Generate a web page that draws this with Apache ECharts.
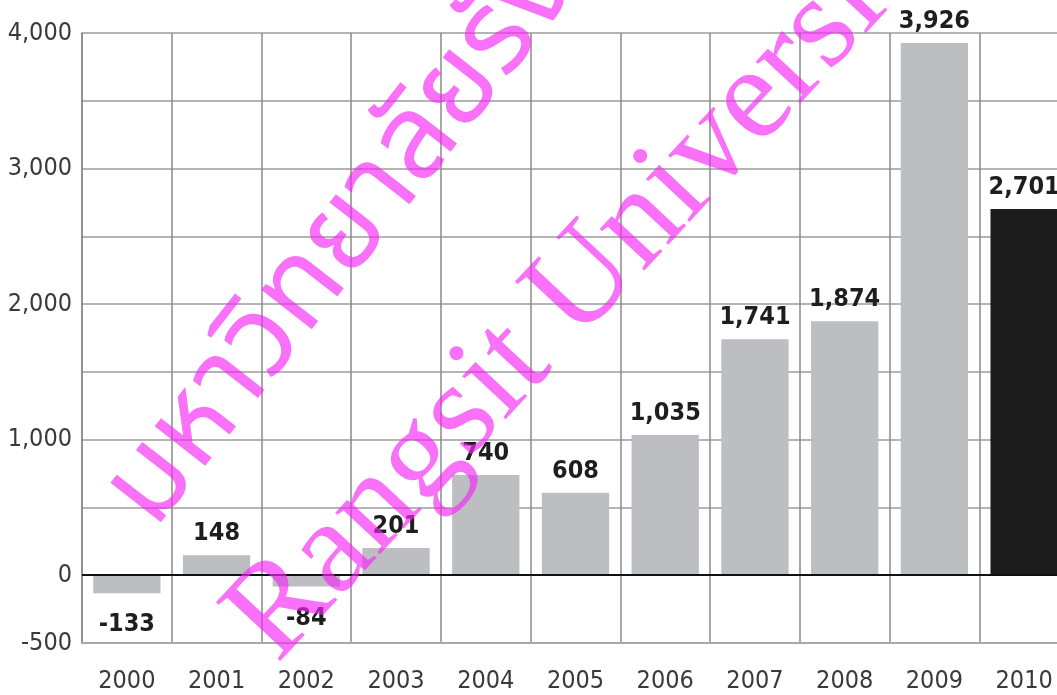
<!DOCTYPE html>
<html>
<head>
<meta charset="utf-8">
<script src="https://cdn.jsdelivr.net/npm/echarts@6/dist/echarts.min.js"></script>
<style>
html,body{margin:0;padding:0;background:#fff;}
#chart{width:1057px;height:695px;}
</style>
</head>
<body>
<div id="chart"></div>
<script>
var years = ['2000','2001','2002','2003','2004','2005','2006','2007','2008','2009','2010'];
var values = [-133, 148, -84, 201, 740, 608, 1035, 1741, 1874, 3926, 2701];
var highlightYear = '2010';
var yTickLabels = {'-500':'-500','0':'0','1000':'1,000','2000':'2,000','3000':'3,000','4000':'4,000'};
var watermarkThai = 'มหาวิทยาลัยรังสิต';
var watermarkEn = 'Rangsit University';

function fmt(v){ return String(v).replace(/\B(?=(\d{3})+(?!\d))/g, ','); }

var narrow = '"DejaVu Sans Condensed", "Liberation Sans Narrow", sans-serif';

var chart = echarts.init(document.getElementById('chart'));
chart.setOption({
  animation: false,
  backgroundColor: '#ffffff',
  grid: { left: 82, right: -12, top: 33, bottom: 52, containLabel: false, outerBoundsMode: 'none' },
  xAxis: {
    type: 'category',
    data: years,
    boundaryGap: true,
    axisLine: { show: true, onZero: false, lineStyle: { color: '#a8a8a8', width: 2 } },
    axisTick: { show: false },
    axisLabel: { interval: 0, color: '#3a3a3a', fontFamily: narrow, fontSize: 25, margin: 26 },
    splitLine: { show: true, interval: 0, lineStyle: { color: '#8a8a8a', width: 1.5 } }
  },
  yAxis: {
    type: 'value',
    min: -500, max: 4000, interval: 500,
    axisLine: { show: true, lineStyle: { color: '#8a8a8a', width: 1.5 } },
    axisTick: { show: false },
    axisLabel: {
      color: '#3a3a3a', fontFamily: narrow, fontSize: 25, margin: 10,
      formatter: function(v){ return yTickLabels[String(v)] !== undefined ? yTickLabels[String(v)] : ''; }
    },
    splitLine: { show: true, lineStyle: { color: '#b4b4b4', width: 2 } }
  },
  series: [{
    type: 'bar',
    barCategoryGap: '25%',
    data: values.map(function(v, i){
      return {
        value: v,
        itemStyle: { color: years[i] === highlightYear ? '#1c1c1c' : '#bdbec1' },
        label: v < 0 ? { position: 'bottom', distance: 19 } : { position: 'top', distance: 9 }
      };
    }),
    label: {
      show: true,
      color: '#1e1e1e',
      fontFamily: narrow,
      fontWeight: 'bold',
      fontSize: 25,
      formatter: function(p){ return fmt(p.value); }
    },
    markLine: {
      silent: true,
      symbol: 'none',
      label: { show: false },
      lineStyle: { color: '#111', width: 2, type: 'solid' },
      data: [{ yAxis: 0 }]
    }
  }],
  graphic: [
    {
      type: 'text', x: 182, y: 552, rotation: 52 * Math.PI / 180, z: 100,
      style: {
        text: watermarkThai, fill: 'rgba(245,40,245,0.66)',
        font: 'normal 117px "Noto Sans Thai", "Noto Serif Thai", "Loma", "Garuda", "Norasi", "DejaVu Sans", sans-serif',
        textAlign: 'left', textVerticalAlign: 'bottom'
      }
    },
    {
      type: 'text', x: 300, y: 686, rotation: 47 * Math.PI / 180, z: 100,
      style: {
        text: watermarkEn, fill: 'rgba(245,40,245,0.66)',
        font: 'normal 133px "Liberation Serif", "DejaVu Serif", serif',
        textAlign: 'left', textVerticalAlign: 'bottom'
      }
    }
  ]
});
</script>
</body>
</html>
